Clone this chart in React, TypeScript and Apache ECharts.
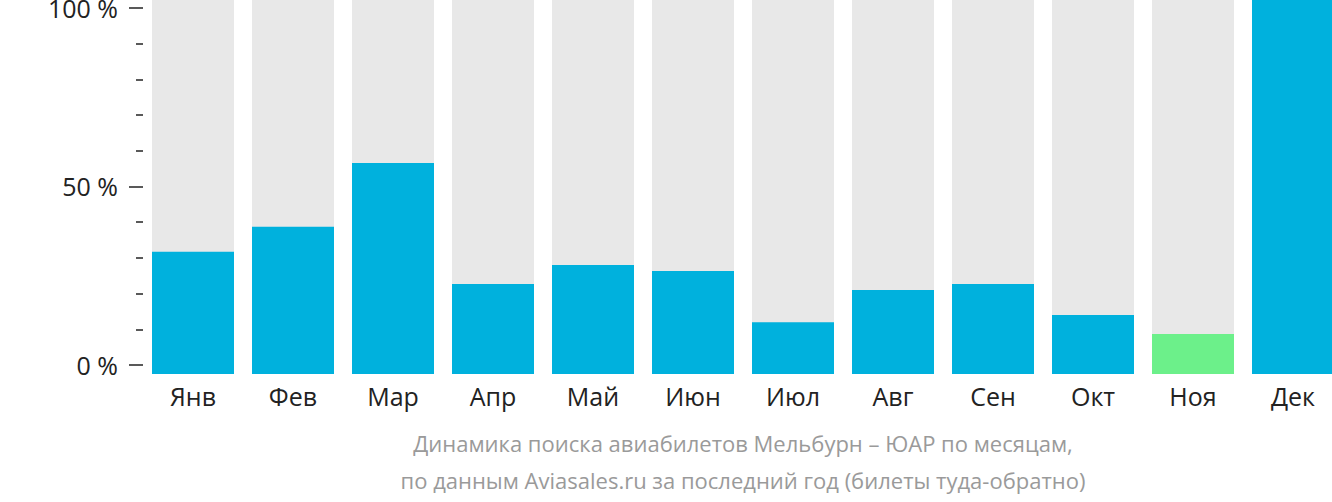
import React, { useEffect, useRef } from "react";
import * as echarts from "echarts";

const months = ["Янв", "Фев", "Мар", "Апр", "Май", "Июн", "Июл", "Авг", "Сен", "Окт", "Ноя", "Дек"];
const values = [31.7, 38.7, 56.6, 22.7, 28.0, 26.3, 12.0, 21.0, 22.7, 14.0, 8.7, 102.2];
const highlightIndex = [10];
const majorTicks = [0, 50, 100];
const minorTicks = [10, 20, 30, 40, 60, 70, 80, 90];
const captionLines = [
  "Динамика поиска авиабилетов Мельбурн – ЮАР по месяцам,",
  "по данным Aviasales.ru за последний год (билеты туда-обратно)",
];

const Y_MIN = -2.5;
const Y_MAX = 102.2;
const BLUE = "#00b1dd";
const GREEN = "#6cf08a";
const BG = "#e8e8e8";
const FONT = "'Open Sans', sans-serif";

export default function App() {
  const ref = useRef<HTMLDivElement>(null);
  useEffect(() => {
    if (!ref.current) return;
    const chart = echarts.init(ref.current, null, { renderer: "svg" });
    const barRender = (fillFn: (i: number) => string, useMax: boolean) => (params: any, api: any) => {
      const cat = api.value(0);
      const v = useMax ? Y_MAX : api.value(1);
      const top = api.coord([cat, v]);
      const bottom = api.coord([cat, Y_MIN]);
      const w = api.size([1, 0])[0] * 0.82;
      return {
        type: "rect",
        shape: { x: top[0] - w / 2, y: top[1], width: w, height: bottom[1] - top[1] },
        style: { fill: fillFn(params.dataIndex) },
      };
    };
    const yBase = {
      type: "value",
      min: Y_MIN,
      max: Y_MAX,
      position: "left",
      axisLine: { show: false },
      splitLine: { show: false },
    };
    chart.setOption({
      animation: false,
      grid: {
        left: 143,
        width: 1200,
        top: 0,
        height: 374,
        containLabel: false,
        outerBoundsMode: "none",
      },
      xAxis: {
        type: "category",
        data: months,
        axisLine: { show: false },
        axisTick: { show: false },
        axisLabel: { fontSize: 25, color: "#222", fontFamily: FONT, margin: 9 },
      },
      yAxis: [
        {
          ...yBase,
          axisTick: {
            show: true,
            customValues: majorTicks,
            length: 14,
            lineStyle: { color: "#222", width: 1.5 },
          },
          axisLabel: {
            customValues: majorTicks,
            formatter: "{value} %",
            fontSize: 25,
            lineHeight: 14,
            color: "#222",
            fontFamily: FONT,
            margin: 25,
            padding: [2, 0, 0, 0],
          },
        },
        {
          ...yBase,
          axisTick: {
            show: true,
            customValues: minorTicks,
            length: 7,
            lineStyle: { color: "#222", width: 1.5 },
          },
          axisLabel: { show: false },
        },
      ],
      series: [
        {
          type: "custom",
          renderItem: barRender(() => BG, true),
          data: months.map((m, i) => [i, values[i]]),
          z: 1,
        },
        {
          type: "custom",
          renderItem: barRender((i) => (highlightIndex.includes(i) ? GREEN : BLUE), false),
          data: months.map((m, i) => [i, values[i]]),
          z: 2,
        },
      ],
      graphic: captionLines.map((t, i) => ({
        type: "text",
        x: 743,
        y: 443 + i * 37,
        style: {
          text: t,
          fontSize: 22,
          fontFamily: FONT,
          fill: "#9a9a9a",
          align: "center",
          verticalAlign: "middle",
          textAlign: "center",
          textVerticalAlign: "middle",
        },
      })),
    });
    return () => chart.dispose();
  }, []);
  return (
    <div
      ref={ref}
      style={{ position: "absolute", left: 0, top: 0, width: 1332, height: 502 }}
    />
  );
}
